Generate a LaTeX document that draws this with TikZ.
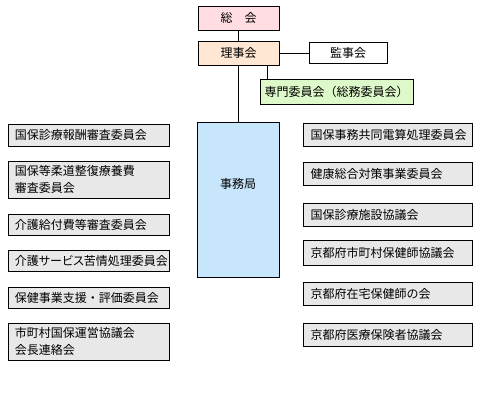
\documentclass[tikz,border=0pt]{standalone}
\usepackage{fontspec}
\setmainfont{Noto Sans CJK JP}
\usetikzlibrary{shapes,arrows}
\definecolor{pinkfill}{HTML}{FFDDE3}
\definecolor{peachfill}{HTML}{FFE7D4}
\definecolor{greenfill}{HTML}{DDF9C9}
\definecolor{bluefill}{HTML}{C7E5FB}
\definecolor{greyfill}{HTML}{E8E8E8}
\tikzstyle{block} = [draw, rectangle, line width=0.9pt, inner sep=0pt,
    font=\fontsize{12}{17}\selectfont]
\tikzstyle{lbox} = [block, fill=greyfill, minimum width=161, text width=147,
    align=left]
\tikzstyle{rbox} = [block, fill=greyfill, minimum width=169, text width=154,
    align=left]

\begin{document}
\begin{tikzpicture}[x=1pt,y=-1pt]
\useasboundingbox (0,0) rectangle (480,400);
\coordinate (S) at (238.5,18);
\coordinate (R) at (238.5,53);
\coordinate (K) at (348,53);
\coordinate (M) at (336.5,91.5);
\coordinate (J) at (238,199.5);

\node[block, name=soukai, fill=pinkfill, minimum width=81, minimum height=24] at (S) {総　会};
\node[block, name=riji, fill=peachfill, minimum width=81, minimum height=24] at (R) {理事会};
\node[block, name=kanji, fill=white, minimum width=78, minimum height=21] at (K) {監事会};
\node[block, name=senmon, fill=greenfill, minimum width=153, minimum height=25] at (M) {専門委員会（総務委員会）};
\node[block, name=jimu, fill=bluefill, minimum width=82, minimum height=155] at (J) {};
\node[name=jimutext, font=\fontsize{12}{17}\selectfont] at ([yshift=15.5]jimu.center) {事務局};

\draw[line width=0.9pt] (soukai.south) -- (soukai.south |- riji.north);
\draw[line width=0.9pt] (riji.east) -- (riji.east -| kanji.west);
\draw[line width=0.9pt] (riji.south) -- (riji.south |- jimu.north);
\draw[line width=0.9pt] ([xshift=8]senmon.north west) -- ([xshift=8]senmon.north west |- riji.south);

% left column
\node[lbox, name=l1, minimum height=22] at (88.5,135) {国保診療報酬審査委員会};
\node[lbox, name=l2, minimum height=37] at (88.5,179.5) {国保等柔道整復療養費\\審査委員会};
\node[lbox, name=l3, minimum height=21] at (88.5,224.5) {介護給付費等審査委員会};
\node[lbox, name=l4, minimum height=21] at (88.5,260.5) {\addfontfeature{RawFeature=+palt}介護サービス苦情処理委員会};
\node[lbox, name=l5, minimum height=21] at (88.5,297.5) {保健事業支援・評価委員会};
\node[lbox, name=l6, minimum height=37] at (88.5,341.5) {市町村国保運営協議会\\会長連絡会};

% right column
\node[rbox, name=r1, minimum height=23] at (387.5,134.5) {国保事務共同電算処理委員会};
\node[rbox, name=r2, minimum height=23] at (387.5,173.5) {健康総合対策事業委員会};
\node[rbox, name=r3, minimum height=23] at (387.5,214.5) {国保診療施設協議会};
\node[rbox, name=r4, minimum height=25] at (387.5,252.5) {京都府市町村保健師協議会};
\node[rbox, name=r5, minimum height=23] at (387.5,293.5) {京都府在宅保健師の会};
\node[rbox, name=r6, minimum height=23] at (387.5,334.5) {京都府医療保険者協議会};

\end{tikzpicture}
\end{document}
